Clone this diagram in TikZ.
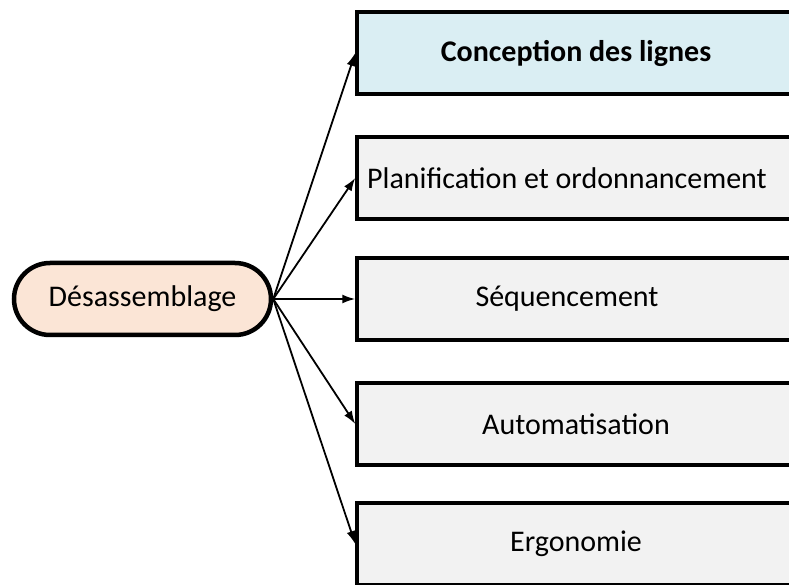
\documentclass[tikz,border=0pt]{standalone}
\usepackage{fontspec}
\setmainfont{Carlito}
\usetikzlibrary{positioning,arrows.meta}
\definecolor{peach}{HTML}{FBE5D6}
\definecolor{paleblue}{HTML}{DAEEF3}
\definecolor{palegrey}{HTML}{F2F2F2}

\begin{document}
\begin{tikzpicture}[x=1pt,y=1pt,
  task/.style={draw,line width=3.5pt,minimum width=438pt,minimum height=82pt,inner sep=0pt,font=\fontsize{30}{34}\selectfont},
  link/.style={line width=1.8pt,-{Latex[length=13pt,width=9pt]}}]

\clip (0,0) rectangle (789,584);

\node[draw,line width=4.5pt,fill=peach,rounded corners=36pt,minimum width=257pt,minimum height=72pt,font=\fontsize{30}{34}\selectfont] (dis) at (142.5,285) {Désassemblage};

\foreach \y/\name/\label/\tint/\dx in {531/conc/{\bfseries Conception des lignes}/paleblue/0, 406/plan/{Planification et ordonnancement}/palegrey/-9, 285/seq/{Séquencement}/palegrey/-9, 160/auto/{Automatisation}/palegrey/0, 40/ergo/{Ergonomie}/palegrey/0} {
    \node[task,fill=\tint] (\name) at (576,\y) {\hspace*{\dx pt}\hspace*{\dx pt}\label};
}

\draw[link] (dis.east) -- (conc.west);
\draw[link] (dis.east) -- (plan.west);
\draw[link] (dis.east) -- (seq.west);
\draw[link] (dis.east) -- (auto.west);
\draw[link] (dis.east) -- (ergo.west);

\end{tikzpicture}
\end{document}
